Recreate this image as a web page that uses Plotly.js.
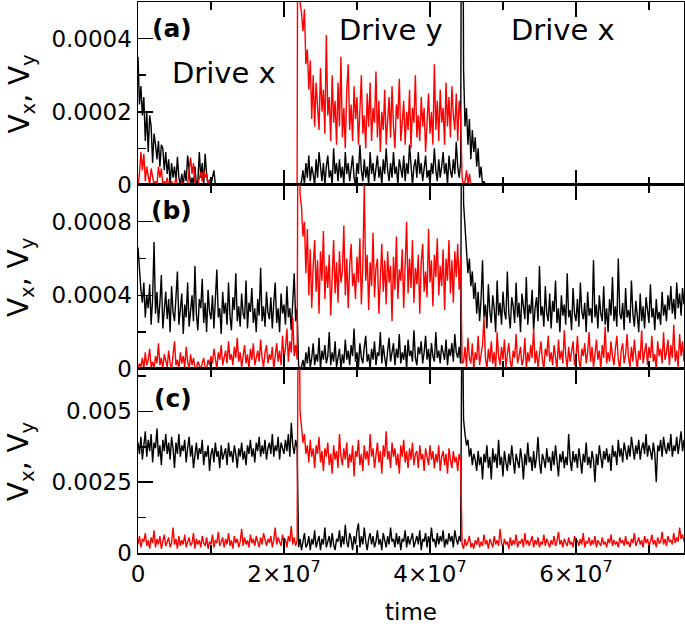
<!DOCTYPE html>
<html><head><meta charset="utf-8">
<script src="https://cdn.plot.ly/plotly-3.0.1.min.js"></script>
<style>html,body{margin:0;padding:0;background:#fff}#chart{width:685px;height:627px}</style>
</head><body><div id="chart"></div>
<script>
// sampling interval of the time series
const timeStep = 2e5;
// panel (a) and (b) values are in units of 1e-6, panel (c) in units of 1e-5
const unitAB = 1e-6, unitC = 1e-5;

// ---------- panel (a) ----------
const aVx = [
// drive x
350,220,270,190,240,120,200,90,190,160,
60,140,110,70,120,50,110,100,40,90,
30,70,0,60,20,50,10,77,20,0,
30,0,40,10,80,30,0,20,0,50,
0,10,90,20,60,0,85,30,0,10,
0,20,40,0,0,0,0,0,0,0,
0,0,0,0,0,0,0,0,0,0,
0,0,0,0,0,0,0,0,0,0,
0,0,0,0,0,0,0,0,0,0,
0,0,0,0,0,0,0,0,0,0,
0,0,0,0,0,0,0,0,0,0,
// drive y
0,0,10,40,0,60,20,80,10,50,
30,0,70,20,90,40,10,60,0,50,
80,20,40,0,100,30,60,10,70,20,
50,0,90,30,60,10,40,80,20,0,
60,30,110,40,10,70,20,50,0,90,
30,60,10,40,80,20,50,0,70,30,
100,40,10,60,20,90,30,50,0,70,
40,20,80,10,60,30,110,40,0,50,
70,20,90,30,60,10,50,80,20,40,
0,60,30,100,40,10,70,20,50,90,
30,60,0,80,40,20,70,30,118,50,
20,60,
// drive x again
1500,316,160,210,110,180,70,150,90,130,
50,100,20,50,0,10,0,0,0,0,
0,0,0,0,0,0,0,0,0,0,
0,0,0,0,0,0,0,0,0,0,
0,0,0,0,0,0,0,0,0,0,
0,0,0,0,0,0,0,0,0,0,
0,0,0,0,0,0,0,0,0,0,
0,0,0,0,0,0,0,0,0,0,
0,0,0,0,0,0,0,0,0,0,
0,0,0,0,0,0,0,0,0,0,
0,0,0,0,0,0,0,0,0,0,
0,0,0,0,0,0,0,0,0,0,
0,0,0,0,0,0,0,0,0,0,
0,0,0,0,0,0,0,0,0,0,
0,0,0,0,0,0,0,0,0,0,
0,0,0
];
const aVy = [
// drive x
0,30,90,40,85,10,50,30,0,45,
20,0,10,0,50,20,45,0,10,0,
20,0,0,10,0,0,20,0,0,0,
10,0,0,0,0,40,75,30,60,10,
0,0,20,35,10,40,20,30,0,15,
0,0,0,0,0,0,0,0,0,0,
0,0,0,0,0,0,0,0,0,0,
0,0,0,0,0,0,0,0,0,0,
0,0,0,0,0,0,0,0,0,0,
0,0,0,0,0,0,0,0,0,0,
0,0,0,0,0,0,0,0,0,0,
// drive y
2000,500,470,420,480,330,370,260,340,180,
300,160,280,220,150,320,200,260,140,410,
190,240,120,300,170,230,110,280,160,350,
130,210,100,260,330,150,220,120,270,180,
240,110,200,300,140,190,100,250,160,280,
120,210,170,310,130,230,90,200,150,260,
110,190,240,130,270,160,100,220,180,290,
120,170,230,110,200,150,260,100,210,170,
300,130,190,120,240,160,210,90,180,250,
140,200,110,330,150,230,120,260,170,210,
110,280,160,240,130,270,190,150,250,120,
230,180,
// drive x again
20,0,10,40,0,30,0,0,0,0,
0,0,0,0,0,0,0,0,0,0,
0,0,0,0,0,0,0,0,0,0,
0,0,0,0,0,0,0,0,0,0,
0,0,0,0,0,0,0,0,0,0,
0,0,0,0,0,0,0,0,0,0,
0,0,0,0,0,0,0,0,0,0,
0,0,0,0,0,0,0,0,0,0,
0,0,0,0,0,0,0,0,0,0,
0,0,0,0,0,0,0,0,0,0,
0,0,0,0,0,0,0,0,0,0,
0,0,0,0,0,0,0,0,0,0,
0,0,0,0,0,0,0,0,0,0,
0,0,0,0,0,0,0,0,0,0,
0,0,0,0,0,0,0,0,0,0,
0,0,0
];

// ---------- panel (b) ----------
const bVx = [
// drive x
660,520,430,360,470,280,400,330,460,240,
380,690,300,420,250,360,510,220,340,420,
270,380,200,450,310,260,390,530,240,330,
410,190,350,280,470,230,320,400,260,560,
300,210,380,330,490,250,360,200,430,310,
270,400,220,350,540,280,330,190,420,300,
360,240,470,290,210,390,320,520,260,340,
230,410,300,270,480,220,360,310,440,250,
330,200,380,290,550,260,340,230,420,310,
270,390,220,360,470,250,330,200,410,300,
350,240,450,280,330,210,380,520,260,330,
// drive y
20,0,10,50,0,90,30,120,10,60,
140,20,80,40,170,0,100,50,130,30,
70,200,20,90,40,150,10,60,110,0,
80,30,160,50,100,20,130,70,220,40,
90,10,140,60,30,120,180,40,80,0,
110,50,150,20,90,70,200,30,130,60,
10,100,170,40,80,140,20,110,60,190,
30,90,50,130,0,160,70,100,40,210,
60,20,120,80,150,30,90,180,50,110,
10,140,70,40,200,60,100,30,130,80,
50,160,20,110,70,140,40,190,90,60,
120,30,
// drive x again
2500,900,750,620,520,600,450,530,380,470,
300,420,260,380,590,280,350,220,460,310,
250,400,330,200,480,290,360,240,420,310,
270,530,300,220,390,340,250,470,280,360,
200,410,320,270,500,240,350,300,430,210,
330,390,260,560,290,340,230,450,300,260,
410,220,370,310,480,250,330,200,400,290,
350,240,520,280,320,210,440,300,260,380,
230,470,310,270,360,200,420,290,330,250,
590,280,350,220,400,300,260,450,240,330,
200,380,290,500,260,340,230,600,300,270,
360,210,440,280,320,250,480,300,230,370,
290,200,410,260,340,220,390,300,250,460,
280,330,210,380,270,310,240,420,290,350,
260,400,320,450,300,380,270,470,330,410,
290,440,350
];
const bVy = [
// drive x
0,30,10,60,0,90,20,50,110,10,
40,0,70,30,140,20,60,0,80,40,
10,100,30,0,60,150,20,50,0,90,
30,70,10,120,40,0,80,20,60,10,
0,40,20,0,30,60,10,0,50,20,
70,30,110,40,0,90,50,130,20,60,
100,30,150,50,80,20,120,60,170,40,
90,10,60,130,30,80,0,110,50,140,
20,70,100,40,160,60,10,90,130,30,
80,50,120,0,70,140,40,100,20,180,
60,110,220,40,150,90,280,70,130,50,
// drive y
2500,950,880,720,800,520,760,400,650,330,
560,700,420,590,300,640,480,750,380,560,
440,620,290,520,700,410,580,360,640,470,
530,780,400,600,330,560,680,450,520,380,
610,470,710,350,560,1000,480,620,320,580,
450,740,390,550,600,300,520,680,420,590,
350,640,470,560,260,610,430,720,380,540,
480,650,330,570,800,410,600,440,700,360,
550,460,620,300,580,680,420,530,390,760,
470,590,340,620,500,710,400,560,450,650,
320,600,480,700,410,590,360,640,500,680,
430,610,
// drive x again
30,40,120,10,170,60,30,140,0,90,
50,180,20,80,130,280,60,0,110,40,
150,30,90,0,200,70,20,120,50,160,
10,80,140,40,0,100,60,190,30,70,
120,20,50,170,0,90,40,130,60,220,
30,100,10,80,150,50,0,110,70,180,
40,90,20,130,60,0,160,50,100,30,
210,70,10,120,40,90,150,20,60,180,
50,0,110,70,140,30,90,200,40,120,
10,80,160,50,100,0,130,60,230,30,
90,40,150,70,20,110,180,50,0,100,
140,30,80,190,60,10,120,40,160,70,
0,100,50,210,30,90,140,20,120,60,
180,40,80,0,150,70,110,30,200,50,
90,160,20,130,60,240,40,100,10,190,
70,150,40
];

// ---------- panel (c) ----------
const cVx = [
// drive x
390,350,410,330,380,430,340,400,360,420,
320,390,370,440,340,380,310,400,360,420,
350,390,330,410,370,300,390,350,420,340,
380,360,400,320,370,410,340,380,300,360,
390,330,370,350,400,310,360,340,380,290,
350,370,320,390,340,360,300,380,330,350,
370,310,390,340,360,320,380,350,300,370,
340,390,330,360,310,380,350,400,340,370,
320,390,360,410,340,380,350,400,330,370,
390,350,420,340,380,360,410,330,390,370,
350,400,360,420,340,460,380,350,400,370,
// drive y
20,50,10,40,70,20,30,60,10,50,
30,80,20,40,60,10,50,30,90,20,
40,60,20,70,30,10,50,40,80,20,
60,30,100,40,20,70,50,10,60,30,
80,105,20,60,30,90,40,10,50,70,
30,60,20,40,80,30,50,10,70,40,
20,60,30,90,40,50,20,70,30,60,
10,50,40,80,20,60,30,50,70,20,
40,60,30,80,10,50,40,70,20,60,
30,90,40,50,20,70,30,60,40,80,
20,50,30,70,40,60,20,80,50,30,
60,40,
// drive x again
1000,470,420,380,400,340,370,310,350,330,
290,360,310,340,260,350,320,380,300,340,
260,370,320,350,300,400,310,340,270,360,
320,290,350,310,380,330,280,350,320,300,
370,330,260,350,310,390,320,340,290,360,
300,340,410,320,280,350,330,300,370,320,
340,290,360,310,380,330,270,350,320,360,
300,340,310,420,330,290,360,320,350,300,
370,330,280,350,320,390,310,340,300,360,
330,250,350,310,380,340,300,360,330,370,
320,350,290,380,340,360,310,400,340,370,
320,390,350,330,380,340,410,360,330,380,
350,400,330,370,390,350,420,340,380,360,
330,390,350,250,380,360,400,340,410,370,
350,390,360,420,340,380,360,410,350,390,
430,360,400
];
const cVy = [
// drive x
30,60,20,50,40,70,25,45,15,55,
35,80,20,50,30,60,15,45,65,25,
40,55,20,35,90,30,50,15,60,25,
45,30,65,20,40,55,25,35,70,15,
50,30,45,20,60,35,25,55,15,40,
30,65,20,45,35,75,25,40,55,20,
50,30,70,25,45,15,60,35,50,20,
40,85,25,55,30,45,20,65,35,50,
25,60,40,20,55,30,70,45,25,50,
35,60,20,45,90,30,55,40,25,65,
35,50,20,60,40,95,30,55,25,45,
// drive y
1200,500,430,390,420,350,380,320,400,340,
370,300,380,350,410,320,360,290,370,340,
390,310,350,280,380,330,360,300,420,340,
310,370,330,390,300,350,320,380,270,360,
340,400,310,350,290,380,330,360,310,420,
340,370,300,350,390,320,360,280,380,340,
430,330,360,300,390,340,370,310,350,280,
380,340,400,320,360,300,370,330,390,310,
350,360,300,380,330,350,290,370,340,310,
380,330,360,300,350,320,380,290,340,360,
310,350,280,370,330,300,360,320,340,290,
350,330,
// drive x again
30,15,50,25,40,60,20,35,15,45,
30,55,20,40,25,65,30,45,15,50,
35,20,60,30,45,25,85,35,20,50,
30,40,15,55,25,45,30,65,20,40,
35,50,20,70,30,45,25,40,60,20,
45,30,55,20,40,30,65,25,50,35,
20,45,30,60,25,40,75,30,45,20,
50,35,25,55,30,40,20,60,35,45,
25,50,30,70,20,40,35,55,25,45,
30,60,20,45,35,25,55,30,40,20,
50,35,65,25,45,30,40,20,55,35,
45,25,60,30,40,20,50,35,70,25,
40,55,30,45,20,60,35,50,25,40,
65,30,45,20,55,35,40,75,30,50,
25,60,40,45,30,70,35,55,40,90,
50,65,40
];

const xTickVals = [0, 2e7, 4e7, 6e7];
const xTickText = ['0', '2×10<sup>7</sup>', '4×10<sup>7</sup>', '6×10<sup>7</sup>'];
const yTicksA = [0, 0.0002, 0.0004], yTextA = ['0', '0.0002', '0.0004'];
const yTicksB = [0, 0.0004, 0.0008], yTextB = ['0', '0.0004', '0.0008'];
const yTicksC = [0, 0.0025, 0.005], yTextC = ['0', '0.0025', '0.005'];
const yTitle = 'V<sub>x</sub>, V<sub>y</sub>';

const timeOf = arr => arr.map((_, i) => i * timeStep);
const scale = (arr, u) => arr.map(v => v * u);

const BLACK = '#000000', RED = '#ff0000';
function tr(vals, unit, color, xa, ya) {
  return {x: timeOf(vals), y: scale(vals, unit), type: 'scatter', mode: 'lines',
          line: {color: color, width: 1.4}, xaxis: xa, yaxis: ya, hoverinfo: 'skip', showlegend: false};
}
const data = [
  tr(aVx, unitAB, BLACK, 'x', 'y'), tr(aVy, unitAB, RED, 'x', 'y'),
  tr(bVx, unitAB, BLACK, 'x2', 'y2'), tr(bVy, unitAB, RED, 'x2', 'y2'),
  tr(cVx, unitC, BLACK, 'x3', 'y3'), tr(cVy, unitC, RED, 'x3', 'y3')
];

const FONT = 'DejaVu Sans, Arial, sans-serif';
const common = {showline: true, linecolor: 'black', linewidth: 1.5, ticks: 'inside', tickcolor: 'black',
  tickwidth: 1.5, ticklen: 15, showgrid: false, zeroline: false, tickfont: {family: FONT, size: 23, color: 'black'}};
const xRange = [0, 7.48e7];
function xax(anchor, labels) {
  return Object.assign({}, common, {anchor: anchor, domain: [0, 1], range: xRange, mirror: 'ticks',
    tickmode: 'array', tickvals: xTickVals, ticktext: xTickText, showticklabels: labels,
    minor: {tick0: 0, dtick: 1e7, ticks: 'inside', ticklen: 8, tickcolor: 'black', tickwidth: 1.5}});
}
function yax(anchor, dom, range, tv, tt, minorStep) {
  return Object.assign({}, common, {anchor: anchor, domain: dom, range: range, mirror: true,
    tickmode: 'array', tickvals: tv, ticktext: tt,
    minor: {tick0: 0, dtick: minorStep, ticks: 'inside', ticklen: 8, tickcolor: 'black', tickwidth: 1.5}});
}
const xa3 = xax('y3', true);
xa3.title = {text: 'time', font: {family: FONT, size: 23, color: 'black'}, standoff: 18};

const ann = (text, x, y, size, bold, angle) => ({text: bold ? '<b>' + text + '</b>' : text, xref: 'paper', yref: 'paper',
  x: x, y: y, xanchor: 'center', yanchor: 'middle', showarrow: false, textangle: angle || 0,
  font: {family: FONT, size: size, color: 'black'}});

const layout = {
  width: 685, height: 627, margin: {l: 138, r: 1, t: 2, b: 74},
  paper_bgcolor: 'white', plot_bgcolor: 'white', font: {family: FONT, color: 'black'},
  xaxis: xax('y', false), xaxis2: xax('y2', false), xaxis3: xa3,
  yaxis: yax('x', [0.668, 1], [0, 0.0005], yTicksA, yTextA, 0.0001),
  yaxis2: yax('x2', [0.334, 0.668], [0, 0.001], yTicksB, yTextB, 0.0002),
  yaxis3: yax('x3', [0, 0.334], [0, 0.0065], yTicksC, yTextC, 0.00125),
  annotations: [
    ann(yTitle, -0.214, 0.834, 28, false, -90),
    ann(yTitle, -0.214, 0.501, 28, false, -90),
    ann(yTitle, -0.214, 0.167, 28, false, -90),
    ann('(a)', 0.0623, 0.952, 25, true),
    ann('(b)', 0.0614, 0.6207, 25, true),
    ann('(c)', 0.0641, 0.2804, 25, true),
    ann('Drive x', 0.1575, 0.8711, 29, false),
    ann('Drive y', 0.4625, 0.9483, 29, false),
    ann('Drive x', 0.7775, 0.9483, 29, false)
  ]
};
Plotly.newPlot('chart', data, layout, {displayModeBar: false, staticPlot: true});
</script></body></html>
